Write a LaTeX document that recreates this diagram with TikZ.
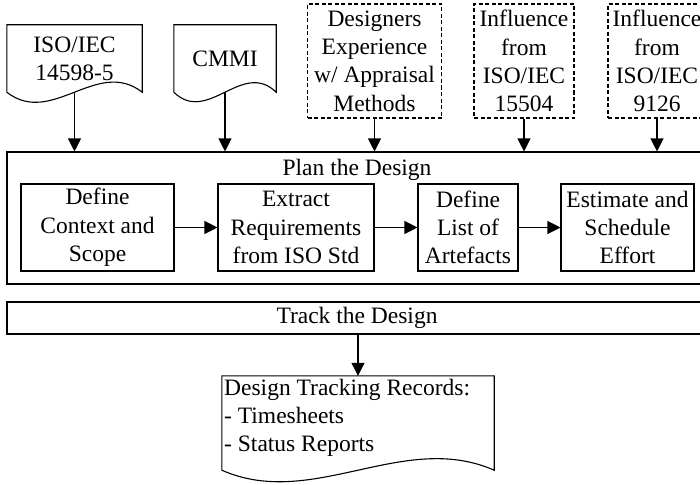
\documentclass[tikz,border=0pt]{standalone}
\usepackage{fontspec}
\setmainfont{Liberation Serif}
\usetikzlibrary{arrows.meta,calc}

\tikzset{
  line/.style={line width=1.1pt, draw=black},
  txt/.style={font=\fontsize{23.5}{28.3}\selectfont, align=center, inner sep=0pt},
  procbox/.style={txt, line, rectangle, minimum height=87pt},
  extbox/.style={txt, line, rectangle, dash pattern=on 4pt off 2.5pt, minimum height=114pt},
  docbody/.style={txt, rectangle, minimum height=67pt},
  band/.style={line, rectangle, minimum width=700pt},
  flow/.style={line, -{Triangle[length=13pt,width=13pt]}},
}

% Outline of a document symbol: straight top and sides, wavy bottom
\newcommand\docoutline[2]{%
  \draw[line] (#1.south west)
    .. controls ($(#1.south west)!1/3!(#1.south east)+(0,#2)$)
            and ($(#1.south west)!2/3!(#1.south east)-(0,#2)$) .. (#1.south east)
    -- (#1.north east) -- (#1.north west) -- cycle;}

\begin{document}
\begin{tikzpicture}[x=1pt, y=-1pt]
  \useasboundingbox (0,0) rectangle (700,484);

  % Inputs
  \node[docbody, minimum width=135pt] (iso) at (74.5,58.5) {ISO/IEC\\14598-5};
  \docoutline{iso}{35}
  \node[docbody, minimum width=102pt] (cmmi) at (225,58.5) {CMMI};
  \docoutline{cmmi}{33}
  \node[extbox, minimum width=134pt] (desg) at (374.5,61) {Designers\\Experience\\w/ Appraisal\\Methods};
  \node[extbox, minimum width=100pt] (inf1) at (524,61) {Influence\\from\\ISO/IEC\\15504};
  \node[extbox, minimum width=98pt] (inf2) at (657,61) {Influence\\from\\ISO/IEC\\9126};

  % Plan the Design
  \node[band, minimum height=132pt] (plan) at (357,218) {};
  \node[txt] (plantitle) at (357,170) {Plan the Design};
  \node[procbox, minimum width=153pt] (ctx) at (97.5,227.5) {Define\\Context and\\Scope};
  \node[procbox, minimum width=156pt] (req) at (296,227.5) {Extract\\Requirements\\from ISO Std};
  \node[procbox, minimum width=100pt] (art) at (468,227.5) {Define\\List of\\Artefacts};
  \node[procbox, minimum width=133pt] (est) at (627.5,227.5) {Estimate and\\Schedule\\Effort};

  % Track the Design
  \node[band, minimum height=32pt, txt, line] (track) at (357,318) {Track the Design};

  % Output records
  \node[rectangle, inner sep=0pt, minimum width=272pt, minimum height=94pt] (recs) at (358,423) {};
  \docoutline{recs}{40}
  \node[txt, align=left, anchor=west] (recstext) at (224,418)
    {Design Tracking Records:\\- Timesheets\\- Status Reports};

  % Connectors
  \foreach \src in {iso, cmmi, desg, inf1, inf2}
    \draw[flow] (\src.south) -- (\src.south |- plan.north);
  \draw[flow] (ctx) -- (req);
  \draw[flow] (req) -- (art);
  \draw[flow] (art) -- (est);
  \draw[flow] (recs.north |- track.south) -- (recs.north);
\end{tikzpicture}
\end{document}
